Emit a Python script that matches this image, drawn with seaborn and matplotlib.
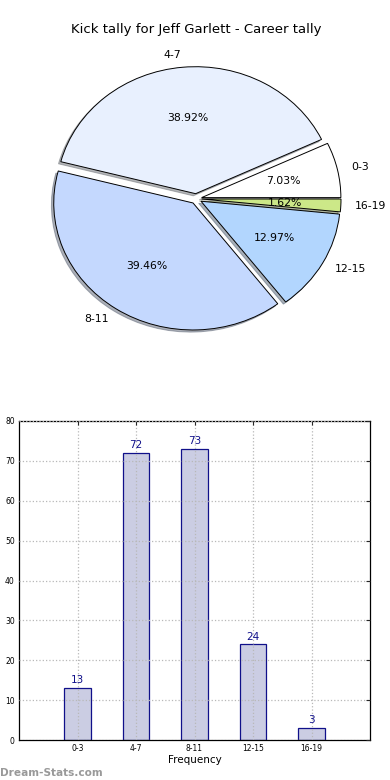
import matplotlib
matplotlib.use("Agg")
import matplotlib.pyplot as plt
import seaborn as sns
import pandas as pd

categories = ["0-3", "4-7", "8-11", "12-15", "16-19"]
counts = [13, 72, 73, 24, 3]
pie_colors = ["#ffffff", "#e8f0fe", "#c4d8fe", "#b2d6fe", "#cce888"]
title = "Kick tally for Jeff Garlett - Career tally"

sns.set_style("white")
plt.rcParams["font.family"] = ["DejaVu Sans"]
plt.rcParams["text.color"] = "black"

fig = plt.figure(figsize=(3.9, 7.8), dpi=100)

# Pie chart
ax1 = fig.add_axes([0.0564, 0.5417, 0.893, 0.407])
wedges, texts, autotexts = ax1.pie(
    counts, labels=categories, colors=pie_colors, explode=[0.04] * 5,
    autopct="%1.2f%%", shadow={"ox": -0.012, "oy": -0.012, "shade": 0.55},
    startangle=0,
    wedgeprops=dict(edgecolor="black", linewidth=0.7),
    textprops=dict(fontsize=7.8, color="black"))
ax1.set_aspect("auto")
ax1.set_xlim(-1.25, 1.25)
ax1.set_ylim(-1.25, 1.25)
ax1.set_title(title, fontsize=9.5, pad=5, color="black")

# Bar chart
ax2 = fig.add_axes([19 / 390, 1 - 740 / 780, 351 / 390, 319 / 780])
df = pd.DataFrame({"cat": categories, "n": counts})
sns.barplot(data=df, x="cat", y="n", ax=ax2, width=0.45,
            color="#cbcde3", edgecolor="#10108a", linewidth=0.9,
            saturation=1)
for p, v in zip(ax2.patches, counts):
    ax2.text(p.get_x() + p.get_width() / 2, v + 0.7, str(v),
             ha="center", va="bottom", fontsize=7.5, color="#10108a")
ax2.set_xlim(-1, 5)
ax2.set_ylim(0, 80)
ax2.set_yticks(range(0, 81, 10))
ax2.set_xlabel("Frequency", fontsize=7.5, labelpad=1, color="black")
ax2.set_ylabel("")
ax2.tick_params(axis="both", labelsize=5.5, direction="in", length=3,
                top=True, right=True, pad=3, labelcolor="black")
ax2.grid(True, linestyle=":", color="#b8b8b8", linewidth=0.9)
ax2.set_axisbelow(False)
for s in ax2.spines.values():
    s.set_color("black")
    s.set_linewidth(0.9)
for p in ax2.patches:
    p.set_zorder(1)

fig.text(0.0, 0.003, "Dream-Stats.com", fontsize=7.6, color="#999999",
         fontweight="bold", ha="left", va="bottom")

fig.savefig("out.png", dpi=100)
